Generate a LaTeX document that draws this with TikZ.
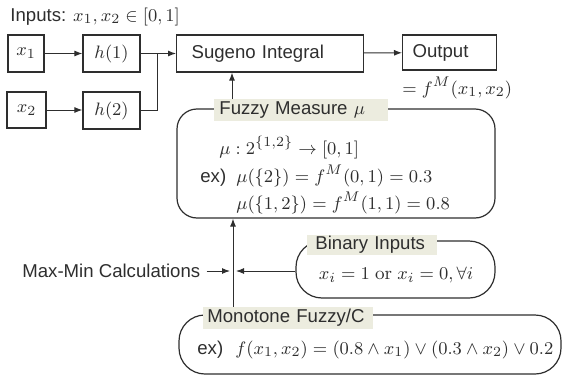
\documentclass[tikz,border=0pt]{standalone}
\usepackage{fontspec}
\setsansfont{Liberation Sans}
\usetikzlibrary{arrows.meta,fit,calc}
\definecolor{lbl}{HTML}{ECECDF}
\definecolor{ln}{HTML}{2E2E2E}
\begin{document}
\begin{tikzpicture}[x=0.5pt,y=-0.5pt,
  every node/.style={text=ln, font=\sffamily\fontsize{9.3}{11}\selectfont},
  box/.style={draw=ln, line width=0.6pt, inner sep=0pt},
  rbox/.style={draw=ln, line width=0.6pt, inner sep=0pt, rounded corners=#1},
  arr/.style={draw=ln, line width=0.5pt, -{Latex[length=4pt,width=3pt]}},
  cn/.style={draw=ln, line width=0.5pt},
  lab/.style={fill=lbl, inner ysep=0pt, align=left, anchor=west},
  txt/.style={inner sep=0pt, anchor=base west}]
\useasboundingbox (0,0) rectangle (562,375);
% top row
\node[txt] (inp) at (10,21) {Inputs: $x_1,x_2\in[0,1]$};
\node[box, minimum width=18pt, minimum height=18.5pt] (x1) at (26,53.5) {$x_1$};
\node[box, minimum width=28.5pt, minimum height=18.5pt] (h1) at (111.5,53.5) {$h(1)$};
\node[box, minimum width=19.5pt, minimum height=18pt] (x2) at (26.5,110) {$x_2$};
\node[box, minimum width=28.5pt, minimum height=18.5pt] (h2) at (111.5,110.5) {$h(2)$};
\node[box, anchor=west, minimum height=18.5pt, inner xsep=7.5pt, text width=78.5pt, align=left] (sug) at (176,53.5) {Sugeno Integral};
\node[box, anchor=west, minimum height=17.5pt, inner xsep=5pt, text width=37pt, align=left] (out) at (402,52.5) {Output};
\node[txt] (oeq) at (402,94) {$= f^M(x_1,x_2)$};
\coordinate (j) at (157,53.5);
\draw[arr] (x1) -- (h1);
\draw[arr] (x2.east) -- (h2.west |- x2.east);
\draw[arr] (h1) -- (sug);
\draw[cn] (h2.east) -| (j);
\draw[arr] (sug) -- (out);
% fuzzy measure
\node[rbox=10pt, fit={(177,109) (495,218)}] (fm) {};
\node[lab, minimum height=11pt, inner xsep=2.5pt, text width=82pt] (fml) at (214,110) {Fuzzy Measure $\mu$};
\node[txt] (mu1) at (219,154) {$\mu : 2^{\{1,2\}}\to[0,1]$};
\node[txt] (ex1) at (200,182) {ex)};
\node[txt] (mu2) at (236,182) {$\mu(\{2\}) = f^M(0,1) = 0.3$};
\node[txt] (mu3) at (236,209) {$\mu(\{1,2\}) = f^M(1,1) = 0.8$};
\coordinate (va) at (232,0);
\draw[arr] (fml.north -| va) -- (sug.south -| va);
% binary inputs
\node[rbox=13pt, fit={(296,241) (495,298)}] (bin) {};
\node[lab, minimum height=10pt, inner xsep=4pt, text width=57pt] (binl) at (307,245) {Binary Inputs};
\node[inner sep=0pt] (bint) at (396,275) {$x_i = 1 \mathrm{\ or\ } x_i = 0, \forall i$};
% monotone
\node[rbox=13pt, fit={(179,315) (561,374)}] (mon) {};
\node[lab, minimum height=11pt, inner xsep=2pt, text width=81pt] (monl) at (203,318) {Monotone Fuzzy/C};
\node[txt] (ex2) at (197,354) {ex)};
\node[txt] (fx) at (235,354) {$f(x_1,x_2) = (0.8\wedge x_1)\vee(0.3\wedge x_2)\vee 0.2$};
% max-min
\node[anchor=west, inner sep=3pt] (mm) at (16,271) {Max-Min Calculations};
\coordinate (jm) at (233,271);
\draw[arr] (monl.north -| jm) -- (fm.south -| jm);
\draw[arr, shorten >=1.5pt] (mm.east) -- (jm);
\draw[arr, shorten >=1.5pt] (bin.west |- jm) -- (jm);
\end{tikzpicture}
\end{document}
